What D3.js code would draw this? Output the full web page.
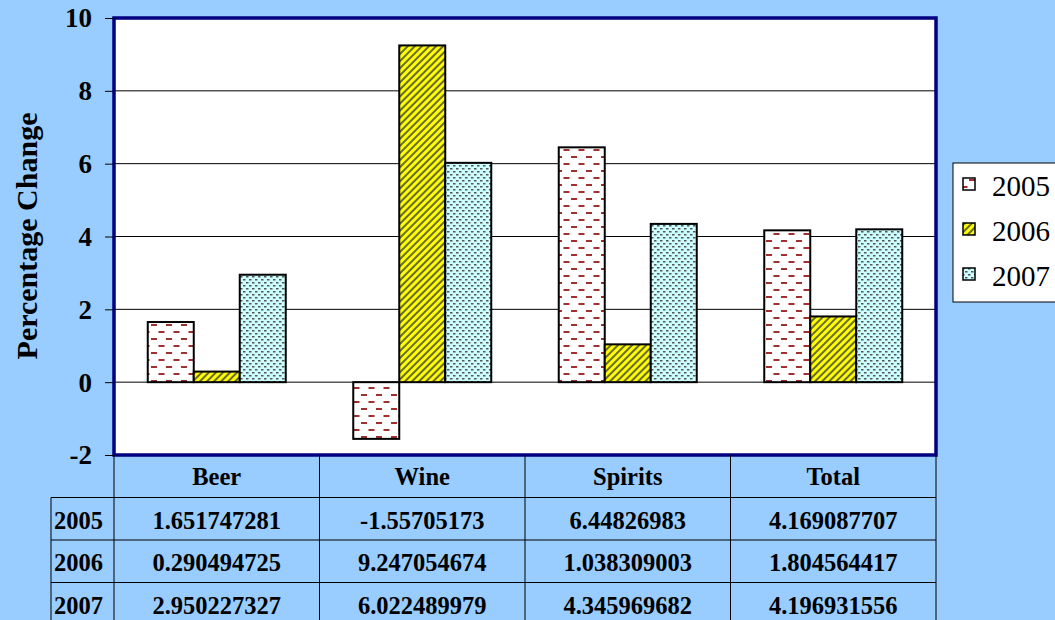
<!DOCTYPE html>
<html><head><meta charset="utf-8">
<script src="https://cdn.jsdelivr.net/npm/d3@7"></script>
<style>body{margin:0;background:#99CCFF;}svg{display:block;} text{font-family:"Liberation Serif","Times New Roman","DejaVu Serif",serif;}</style>
</head><body>
<script>
const categories = ["Beer", "Wine", "Spirits", "Total"];
const seriesNames = ["2005", "2006", "2007"];
const values2005 = [1.651747281, -1.55705173, 6.44826983, 4.169087707];
const values2006 = [0.290494725, 9.247054674, 1.038309003, 1.804564417];
const values2007 = [2.950227327, 6.022489979, 4.345969682, 4.196931556];
const valueLabels2005 = ["1.651747281", "-1.55705173", "6.44826983", "4.169087707"];
const valueLabels2006 = ["0.290494725", "9.247054674", "1.038309003", "1.804564417"];
const valueLabels2007 = ["2.950227327", "6.022489979", "4.345969682", "4.196931556"];
const yTicks = [-2, 0, 2, 4, 6, 8, 10];

(function(){
const series = [values2005, values2006, values2007];
const labels = [valueLabels2005, valueLabels2006, valueLabels2007];

const W = 1055, H = 620;
const svg = d3.select("body").append("svg").attr("width", W).attr("height", H);
svg.append("rect").attr("width", W).attr("height", H).attr("fill", "#99CCFF");

const defs = svg.append("defs");
const p1 = defs.append("pattern").attr("id","p2005").attr("patternUnits","userSpaceOnUse").attr("width",15).attr("height",14);
p1.append("rect").attr("width",15).attr("height",14).attr("fill","#fff");
p1.append("rect").attr("x",1).attr("y",2).attr("width",6).attr("height",2).attr("fill","#A03030");
p1.append("rect").attr("x",8.5).attr("y",9).attr("width",6).attr("height",2).attr("fill","#A03030");
const p2 = defs.append("pattern").attr("id","p2006").attr("patternUnits","userSpaceOnUse").attr("width",5).attr("height",5).attr("patternTransform","rotate(45)");
p2.append("rect").attr("width",5).attr("height",5).attr("fill","#FFFF00");
p2.append("rect").attr("width",2).attr("height",5).attr("fill","#6A6A30");
const p3 = defs.append("pattern").attr("id","p2007").attr("patternUnits","userSpaceOnUse").attr("width",6).attr("height",6);
p3.append("rect").attr("width",6).attr("height",6).attr("fill","#CCFFFF");
p3.append("rect").attr("x",0).attr("y",0).attr("width",2.5).attr("height",1.5).attr("fill","#555");
p3.append("rect").attr("x",3).attr("y",3).attr("width",2.5).attr("height",1.5).attr("fill","#555");
const fills = ["url(#p2005)","url(#p2006)","url(#p2007)"];

const pl = 114, pr = 936, pt = 18, pb = 455;
const y = d3.scaleLinear().domain([-2, 10]).range([pb, pt]);
const x = d3.scaleBand().domain(categories).range([pl, pr]);
const barW = 46;
const xs = d3.scaleBand().domain(seriesNames).range([0, barW*3]);

svg.append("rect").attr("x",pl).attr("y",pt).attr("width",pr-pl).attr("height",pb-pt).attr("fill","#fff");

svg.append("g").selectAll("line").data(yTicks.filter(t=>t>-2 && t<10)).join("line")
  .attr("x1",pl).attr("x2",pr).attr("y1",d=>y(d)).attr("y2",d=>y(d))
  .attr("stroke","#000").attr("stroke-width",1);

categories.forEach((c, ci) => {
  const g0 = x(c) + (x.bandwidth() - barW*3)/2;
  series.forEach((s, si) => {
    const v = s[ci];
    svg.append("rect")
      .attr("x", g0 + xs(seriesNames[si]))
      .attr("y", y(Math.max(0, v)))
      .attr("width", barW)
      .attr("height", Math.abs(y(v) - y(0)))
      .attr("fill", fills[si])
      .attr("stroke", "#000").attr("stroke-width", 2);
  });
});

svg.append("rect").attr("x",pl).attr("y",pt).attr("width",pr-pl).attr("height",pb-pt)
  .attr("fill","none").attr("stroke","#000080").attr("stroke-width",3.5);

const yAxis = svg.append("g").attr("transform",`translate(${pl},0)`)
  .call(d3.axisLeft(y).tickValues(yTicks).tickSize(9).tickPadding(13).tickFormat(d => String(d)));
yAxis.attr("font-family", null);
yAxis.select(".domain").remove();
yAxis.selectAll("line").attr("stroke","#000");
yAxis.selectAll("text").attr("font-weight","bold").attr("font-size",27).attr("fill","#000").attr("dy","0.33em");

svg.append("text").attr("transform","translate(37,236) rotate(-90)").attr("text-anchor","middle")
  .attr("font-weight","bold").attr("font-size",30)
  .text("Percentage Change");

const rowH = 42.5;
const tbl = svg.append("g").attr("font-weight","bold").attr("font-size",24.5).attr("fill","#000");
const tLeft = 51;
categories.forEach(c => {
  tbl.append("text").attr("x", x(c)+x.bandwidth()/2).attr("y", pb + rowH/2 + 9).attr("text-anchor","middle").text(c);
});
seriesNames.forEach((s, si) => {
  const ry = pb + rowH*(si+1);
  tbl.append("text").attr("x", tLeft + 3).attr("y", ry + rowH/2 + 10).text(s);
  categories.forEach((c, ci) => {
    tbl.append("text").attr("x", x(c)+x.bandwidth()/2).attr("y", ry + rowH/2 + 10).attr("text-anchor","middle").text(labels[si][ci]);
  });
});
const lines = svg.append("g").attr("stroke","#000").attr("stroke-width",1);
[pl, ...categories.map(c=>x(c)+x.bandwidth())].forEach(xx => {
  lines.append("line").attr("x1",xx).attr("x2",xx).attr("y1",pb).attr("y2",H);
});
lines.append("line").attr("x1",tLeft).attr("x2",tLeft).attr("y1",pb+rowH).attr("y2",H);
for (let i=1;i<=3;i++){
  lines.append("line").attr("x1",tLeft).attr("x2",pr).attr("y1",pb+rowH*i).attr("y2",pb+rowH*i);
}

const lg = svg.append("g").attr("transform","translate(953,163)");
lg.append("rect").attr("width",110).attr("height",139).attr("fill","#fff").attr("stroke","#000").attr("stroke-width",1);
seriesNames.forEach((s, si) => {
  const ly = 21 + si*45;
  lg.append("rect").attr("x",10).attr("y",ly-6).attr("width",12).attr("height",12).attr("fill",fills[si]).attr("stroke","#000").attr("stroke-width",1.5);
  lg.append("text").attr("x",39).attr("y",ly+12).attr("font-size",29).text(s);
});
})();
</script>
</body></html>
